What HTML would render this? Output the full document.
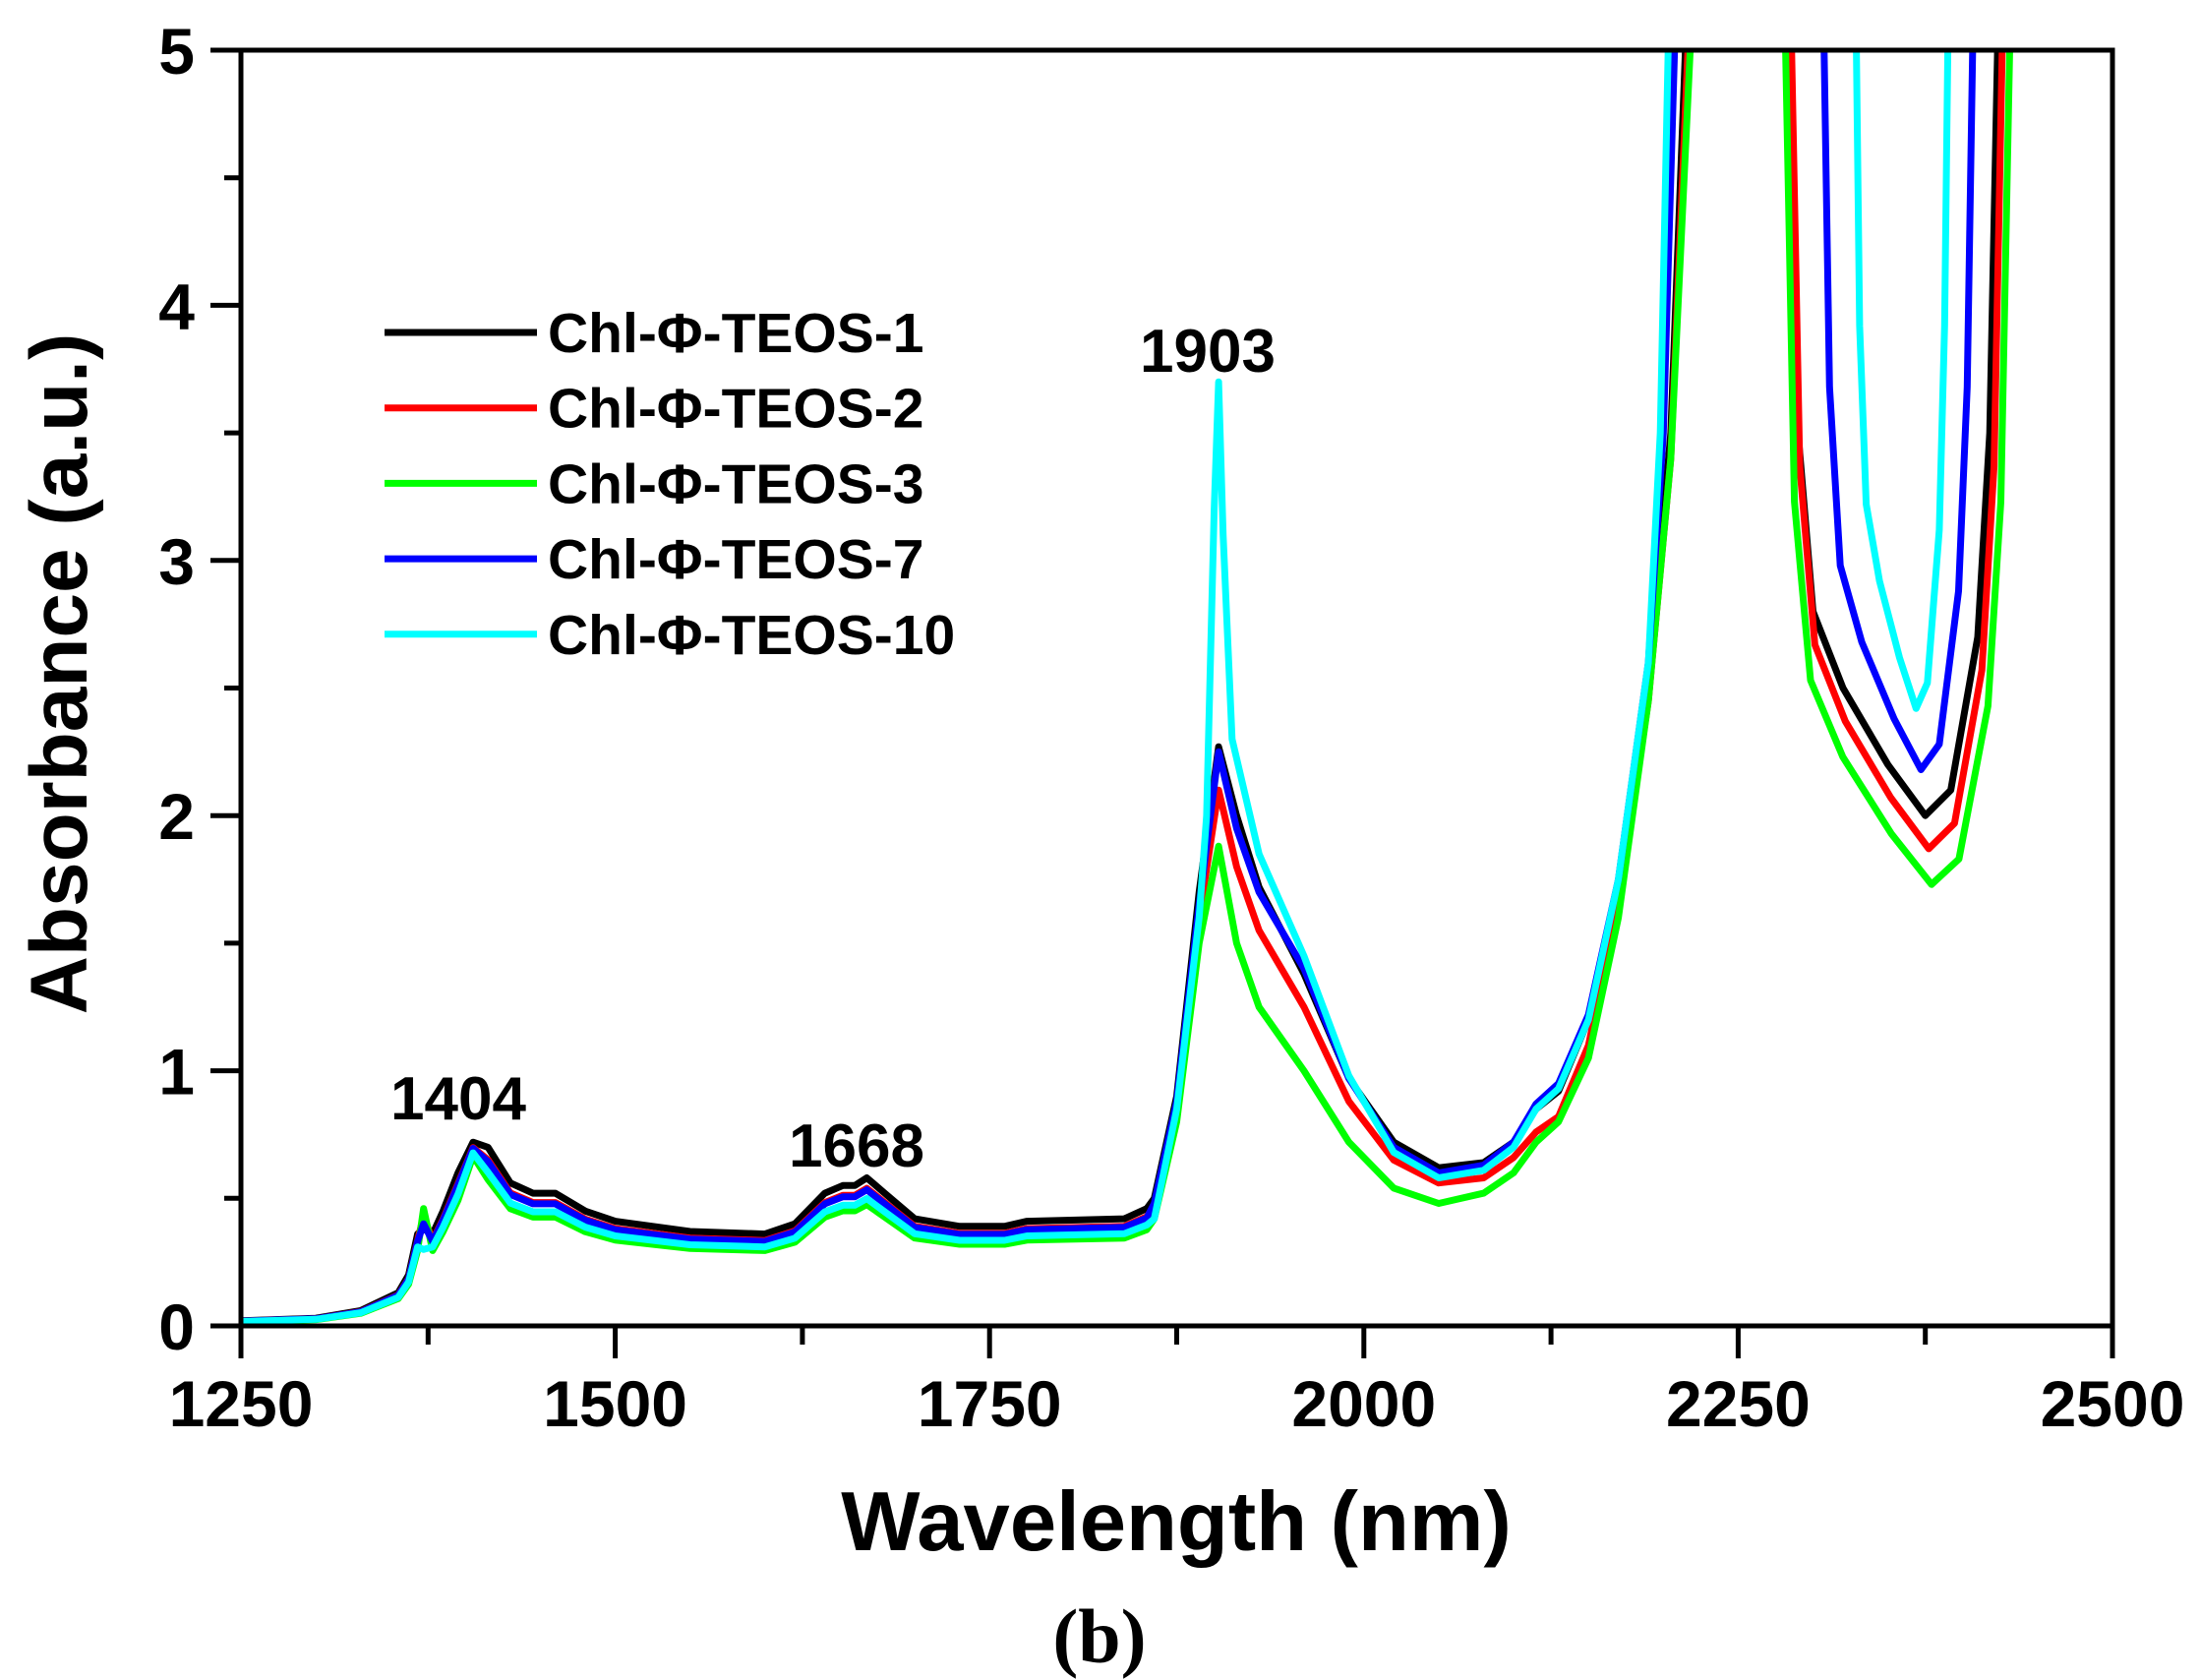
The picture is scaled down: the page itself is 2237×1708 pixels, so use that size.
<!DOCTYPE html>
<html><head><meta charset="utf-8"><style>
html,body{margin:0;padding:0;background:#fff;}
svg{display:block;}
text{font-family:"Liberation Sans",sans-serif;font-weight:bold;fill:#000;}
</style></head><body>
<svg id="s" width="2237" height="1708" viewBox="0 0 2237 1708" xmlns="http://www.w3.org/2000/svg">
<defs><clipPath id="c"><rect x="245" y="51" width="1903" height="1297"/></clipPath></defs>
<g id="curves" clip-path="url(#c)" fill="none" stroke-width="7" stroke-linejoin="round"></g>
<rect x="245" y="51" width="1903" height="1297" fill="none" stroke="#000" stroke-width="5"/>
<g id="ticks" stroke="#000" stroke-width="5"></g>
<g font-size="66" text-anchor="end" id="ylab"></g>
<g font-size="66" text-anchor="middle" id="xlab"></g>
<text x="1196" y="1576" font-size="85" text-anchor="middle">Wavelength (nm)</text>
<text transform="translate(88,685) rotate(-90)" font-size="82" text-anchor="middle">Absorbance (a.u.)</text>
<text x="1118" y="1690" font-size="78" text-anchor="middle" style="font-family:'Liberation Serif',serif">(b)</text>
<g font-size="62" text-anchor="middle">
<text x="466" y="1138">1404</text>
<text x="871" y="1186">1668</text>
<text x="1228" y="378">1903</text>
</g>
<g font-size="57" id="leg"></g>
</svg>
<script>
var X=function(n){return 245+(n-1250)*1.5224;},Y=function(a){return 1348-a*259.4;};
var ns="http://www.w3.org/2000/svg";
function el(p,t,at,txt){var e=document.createElementNS(ns,t);for(var k in at)e.setAttribute(k,at[k]);if(txt)e.textContent=txt;document.getElementById(p).appendChild(e);return e;}
for(var i=0;i<=10;i++){var a=i*0.5,y=Y(a);el('ticks','line',{x1:245,x2:i%2?228:214,y1:y,y2:y});if(i%2==0)el('ylab','text',{x:198,y:y+24},String(a));}
for(var i=0;i<=10;i++){var n=1250+i*125,x=X(n);el('ticks','line',{x1:x,x2:x,y1:1348,y2:i%2?1367:1381});if(i%2==0)el('xlab','text',{x:x,y:1450},String(n));}
var low=[[1250,0.02],[1300,0.03],[1330,0.06],[1355,0.13],[1362,0.2],[1368,0.36],[1372,0.4],[1378,0.36],[1385,0.45],[1395,0.6],[1405,0.72],[1415,0.7],[1430,0.56],[1445,0.52],[1460,0.52],[1480,0.45],[1500,0.41],[1550,0.37],[1600,0.36],[1620,0.4],[1640,0.52],[1652,0.55],[1660,0.55],[1668,0.58],[1680,0.52],[1700,0.42],[1730,0.39],[1760,0.39],[1775,0.41],[1840,0.42],[1855,0.46]];
var mids={
k:[[1860,0.5],[1875,0.9],[1890,1.7],[1903,2.27],[1915,2.0],[1930,1.72],[1960,1.38],[1990,0.97],[2020,0.72],[2050,0.62],[2080,0.64],[2100,0.72],[2115,0.85],[2130,0.92],[2150,1.2],[2170,1.7],[2190,2.5],[2205,3.5],[2218,5.5]],
r:[[1860,0.47],[1875,0.85],[1890,1.6],[1903,2.1],[1915,1.8],[1930,1.55],[1960,1.25],[1990,0.88],[2020,0.65],[2050,0.56],[2080,0.58],[2100,0.66],[2115,0.76],[2130,0.82],[2150,1.1],[2170,1.65],[2190,2.45],[2205,3.4],[2220,5.5]],
g:[[1860,0.42],[1875,0.8],[1890,1.5],[1903,1.88],[1915,1.5],[1930,1.25],[1960,1.0],[1990,0.72],[2020,0.54],[2050,0.48],[2080,0.52],[2100,0.6],[2115,0.72],[2130,0.8],[2150,1.05],[2170,1.6],[2190,2.45],[2205,3.4],[2222,5.5]],
b:[[1860,0.48],[1875,0.88],[1890,1.65],[1903,2.25],[1915,1.95],[1930,1.7],[1960,1.4],[1990,0.97],[2020,0.7],[2050,0.6],[2080,0.63],[2100,0.72],[2115,0.87],[2130,0.95],[2150,1.22],[2170,1.75],[2190,2.6],[2200,3.5],[2210,5.5]],
c:[[1860,0.42],[1875,0.85],[1890,1.6],[1895,2.0],[1900,3.2],[1903,3.7],[1906,3.1],[1912,2.3],[1930,1.85],[1960,1.45],[1990,0.98],[2020,0.68],[2050,0.58],[2080,0.61],[2100,0.7],[2115,0.85],[2130,0.93],[2150,1.2],[2170,1.75],[2190,2.6],[2198,3.5],[2205,5.5]]};
var tmpl=[[2283,5.5],[2290,3.5],[2300,2.8],[2320,2.5],[2350,2.2],[2375,2.0],[2392,2.1],[2410,2.7],[2418,3.5],[2425,5.5]];
var cfg=[['k','#000',1,2283,2425,2.0,0.38],['r','#f00',0.93,2284,2428,1.87,0.43],['g','#0f0',0.82,2280,2433,1.73,0.46],['b','#00f',0.92,2306,2408,2.18,0.4],['c','#0ff',0.86,2328,2391,2.42,0.3]];
var names={k:'Chl-Φ-TEOS-1',r:'Chl-Φ-TEOS-2',g:'Chl-Φ-TEOS-3',b:'Chl-Φ-TEOS-7',c:'Chl-Φ-TEOS-10'};
cfg.forEach(function(c,idx){
 var pts=low.map(function(p){var v=p[1]*c[2];if(p[0]==1372)v=c[6];if(p[0]==1405)v=0.72-(1-c[2])*0.3;return [p[0],v];});
 pts=pts.concat(mids[c[0]]);
 var d='M'+pts.map(function(p){return X(p[0]).toFixed(1)+','+Y(p[1]).toFixed(1);}).join('L');
 var rp=tmpl.map(function(p){var n=c[3]+(p[0]-2283)/(142)*(c[4]-c[3]);var v=p[1]>=5?5.5:c[5]+(p[1]-2);return [n,v];});
 d+='M'+rp.map(function(p){return X(p[0]).toFixed(1)+','+Y(p[1]).toFixed(1);}).join('L');
 el('curves','path',{d:d,stroke:c[1]});
 var ly=338+idx*76.7;
 el('leg','line',{x1:391,x2:546,y1:ly,y2:ly,stroke:c[1],'stroke-width':7});
 el('leg','text',{x:557,y:ly+20},names[c[0]]);
});
</script>
</body></html>
